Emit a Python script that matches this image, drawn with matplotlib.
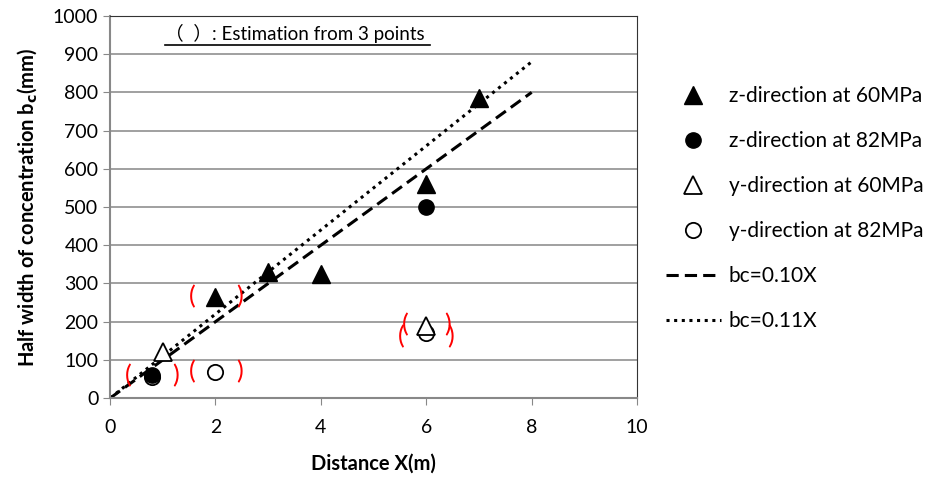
import numpy as np
import matplotlib
matplotlib.use("Agg")
from matplotlib import pyplot as plt

plt.rcParams['font.family'] = ['Lato', 'Noto Sans CJK JP', 'DejaVu Sans']

# measured data
z60_x = [2, 3, 4, 6, 7]
z60_y = [265, 330, 325, 560, 785]
z82_x = [0.8, 6]
z82_y = [60, 500]
y60_x = [1, 6]
y60_y = [120, 190]
y82_x = [0.8, 2, 6]
y82_y = [55, 68, 170]

# fitted lines bc = k * X
fit_x = [0, 8]
k_dash = 0.10
k_dot = 0.11

# estimated points (marked with red parentheses)
est_x = [0.8, 2, 2, 6, 6]
est_y = [60, 265, 68, 192, 162]
est_dx = [0.45, 0.45, 0.45, 0.4, 0.47]

fig = plt.figure(figsize=(9.41, 4.82), dpi=100)
ax = fig.add_axes([0.117, 0.174, 0.56, 0.793])

fx = np.array(fit_x)
ax.plot(fx, k_dash * fx * 1000, color='black', linestyle=(0, (4, 2)), lw=2.2, label='bc=0.10X')
ax.plot(fx, k_dot * fx * 1000, color='black', linestyle=(0, (1, 1.5)), lw=2.2, label='bc=0.11X')

ax.plot(y82_x, y82_y, 'o', mfc='white', mec='black', mew=1.3, ms=11, label='y-direction at 82MPa')
ax.plot(y60_x, y60_y, '^', mfc='white', mec='black', mew=1.3, ms=13, label='y-direction at 60MPa')
ax.plot(z82_x, z82_y, 'o', color='black', ms=11, label='z-direction at 82MPa')
ax.plot(z60_x, z60_y, '^', color='black', ms=13, label='z-direction at 60MPa')

for x, y, d in zip(est_x, est_y, est_dx):
    ax.text(x - d, y, '(', color='red', fontsize=18, ha='center', va='center')
    ax.text(x + d, y, ')', color='red', fontsize=18, ha='center', va='center')

ax.set_xlim(0, 10)
ax.set_ylim(0, 1000)
ax.set_xticks(range(0, 11, 2))
ax.set_yticks(range(0, 1001, 100))
ax.yaxis.grid(True, color='#999999', lw=1.3)
ax.set_axisbelow(True)
ax.tick_params(labelsize=14, direction='out', length=5, color='#888888')
ax.tick_params(axis='x', pad=10)
for s in ['left', 'bottom']:
    ax.spines[s].set_color('#888888')
    ax.spines[s].set_linewidth(1.5)
for s in ['top', 'right']:
    ax.spines[s].set_color('#333333')

ax.set_xlabel('Distance X(m)', fontsize=14.5, fontweight='bold', labelpad=13)
ax.set_ylabel('Half width of concentration b$_\\mathbf{c}$(mm)', fontsize=14.5,
              fontweight='bold', labelpad=10)

ax.text(0.105, 0.955, '（  ）: Estimation from 3 points', transform=ax.transAxes,
        fontsize=13.5, ha='left', va='center')
ax.plot([0.105, 0.607], [0.925, 0.925], transform=ax.transAxes, color='black', lw=1.2, clip_on=False)

h, l = ax.get_legend_handles_labels()
order = [5, 4, 3, 2, 0, 1]
ax.legend([h[i] for i in order], [l[i] for i in order], loc='center left',
          bbox_to_anchor=(1.02, 0.495), frameon=False, fontsize=15,
          labelspacing=1.2, handlelength=2.6, handletextpad=0.4)

fig.savefig('out.png', dpi=100)
